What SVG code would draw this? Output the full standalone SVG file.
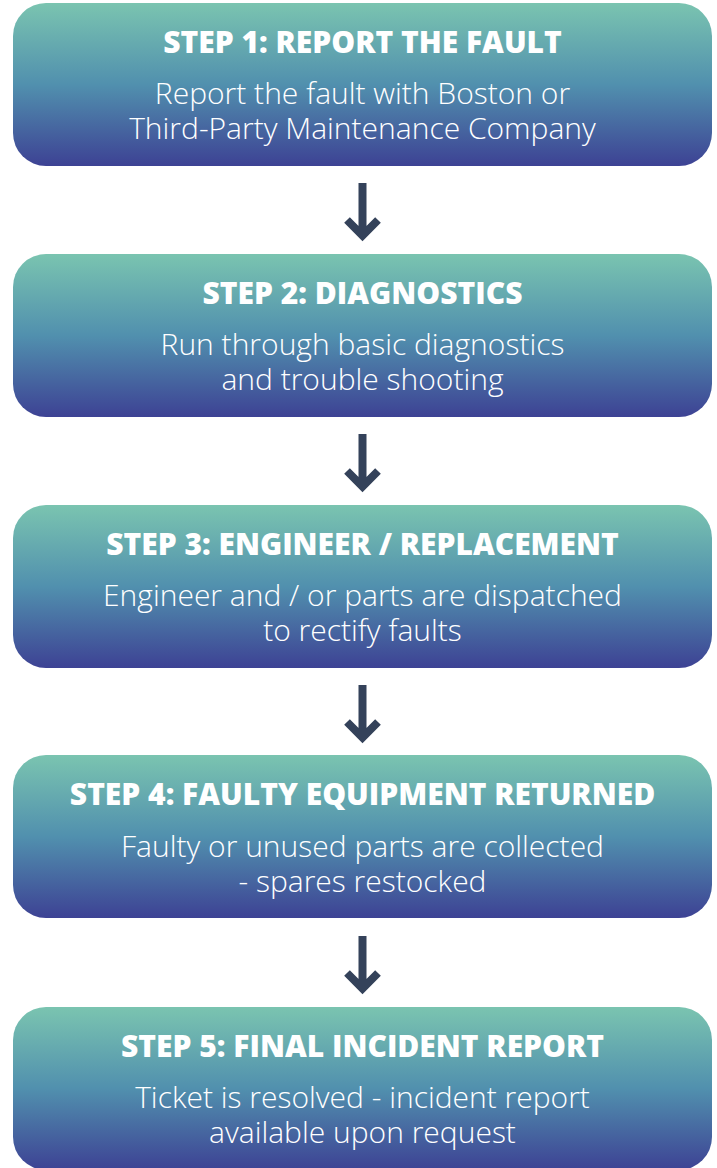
<svg xmlns="http://www.w3.org/2000/svg" width="717" height="1168" viewBox="0 0 717 1168">
<defs>
<linearGradient id="g" x1="0" y1="0" x2="0" y2="1">
<stop offset="0" stop-color="#7ac4b0"/>
<stop offset="0.5" stop-color="#5190ae"/>
<stop offset="1" stop-color="#3d4294"/>
</linearGradient>
</defs>
<style>
.box{fill:url(#g);}
.t{font-family:"Open Sans","Noto Sans",sans-serif;font-weight:800;font-size:30px;fill:#ffffff;text-anchor:middle;}
.b{font-family:"Open Sans","Noto Sans",sans-serif;font-weight:300;font-size:30px;fill:#ffffff;text-anchor:middle;}
.arr{fill:none;stroke:#34425a;stroke-width:8;}
</style>
<g id="connectors">
<path class="arr" d="M362.5 183 V235 M347 220 L362.5 235.5 L378 220"/>
<path class="arr" d="M362.5 434 V486 M347 471 L362.5 486.5 L378 471"/>
<path class="arr" d="M362.5 685 V737 M347 722 L362.5 737.5 L378 722"/>
<path class="arr" d="M362.5 936 V988 M347 973 L362.5 988.5 L378 973"/>
</g>
<g id="step1">
<rect class="box" x="13" y="3" width="699" height="163" rx="33"/>
<text class="t" x="362.5" y="53">STEP 1: REPORT THE FAULT</text>
<text class="b" x="362.5" y="104">Report the fault with Boston or</text>
<text class="b" x="362.5" y="139">Third-Party Maintenance Company</text>
</g>
<g id="step2">
<rect class="box" x="13" y="254" width="699" height="163" rx="33"/>
<text class="t" x="362.5" y="304">STEP 2: DIAGNOSTICS</text>
<text class="b" x="362.5" y="355">Run through basic diagnostics</text>
<text class="b" x="362.5" y="390">and trouble shooting</text>
</g>
<g id="step3">
<rect class="box" x="13" y="505" width="699" height="163" rx="33"/>
<text class="t" x="362.5" y="555">STEP 3: ENGINEER / REPLACEMENT</text>
<text class="b" x="362.5" y="606">Engineer and / or parts are dispatched</text>
<text class="b" x="362.5" y="641">to rectify faults</text>
</g>
<g id="step4">
<rect class="box" x="13" y="755" width="699" height="163" rx="33"/>
<text class="t" x="362.5" y="805">STEP 4: FAULTY EQUIPMENT RETURNED</text>
<text class="b" x="362.5" y="857">Faulty or unused parts are collected</text>
<text class="b" x="362.5" y="892">- spares restocked</text>
</g>
<g id="step5">
<rect class="box" x="13" y="1007" width="699" height="163" rx="33"/>
<text class="t" x="362.5" y="1057">STEP 5: FINAL INCIDENT REPORT</text>
<text class="b" x="362.5" y="1108">Ticket is resolved - incident report</text>
<text class="b" x="362.5" y="1143">available upon request</text>
</g>
</svg>
